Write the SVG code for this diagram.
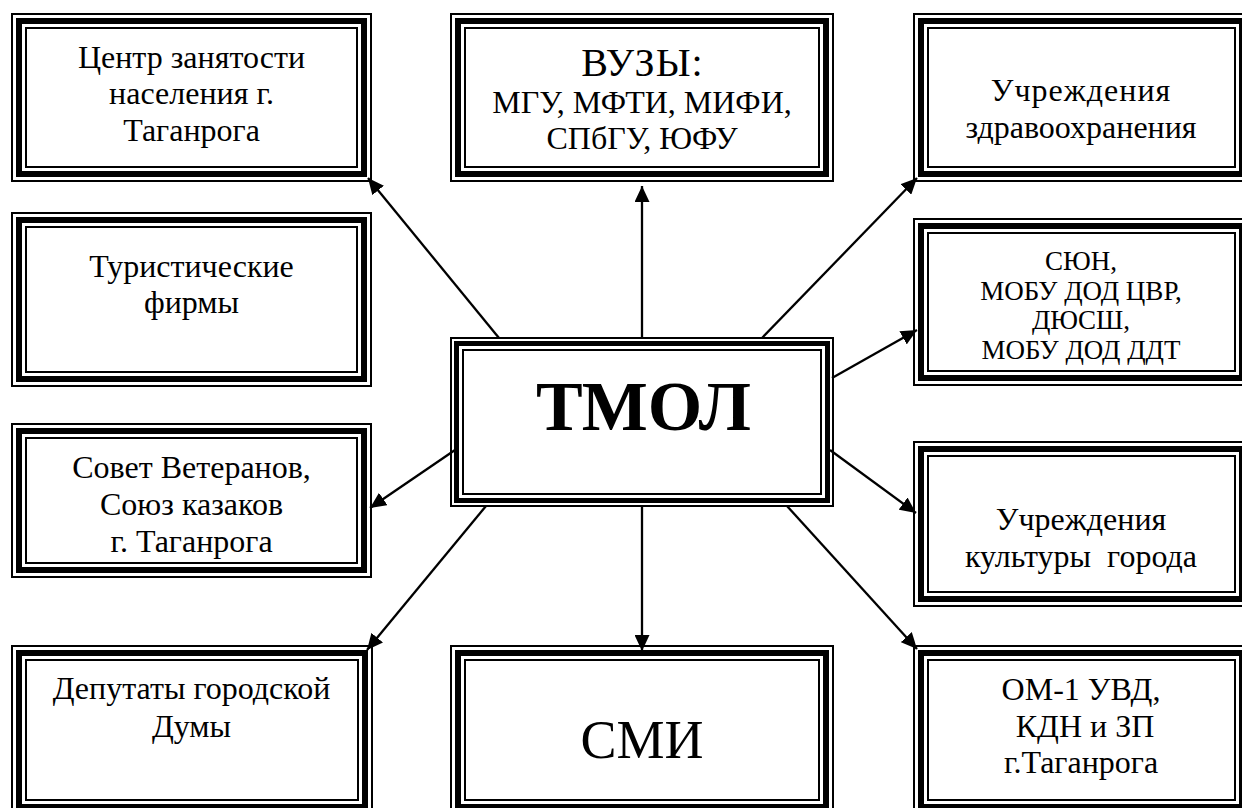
<svg xmlns="http://www.w3.org/2000/svg" width="1242" height="808" viewBox="0 0 1242 808">
<defs>
<style>
.o{fill:#fff;stroke:#000;stroke-width:2}
.m{fill:none;stroke:#000;stroke-width:6}
.i{fill:none;stroke:#000;stroke-width:2}
.t{font-family:'Liberation Serif','Times New Roman',serif;font-size:32px;fill:#000;text-anchor:middle}
.c{stroke:#000;stroke-width:2.3;fill:none;marker-end:url(#ah)}
</style>
<marker id="ah" viewBox="0 0 16 15" markerWidth="16" markerHeight="15" refX="16" refY="7.5" orient="auto" markerUnits="userSpaceOnUse">
<path d="M0,0 L16,7.5 L0,15 z" fill="#000"/>
</marker>
</defs>
<rect width="1242" height="808" fill="#fff"/>

<g id="n-center">
<rect class="o" x="12" y="14" width="359" height="167"/>
<rect class="m" x="19" y="21" width="345" height="153"/>
<rect class="i" x="26" y="28" width="331" height="139"/>
<text class="t" x="191.5" y="68">Центр занятости</text>
<text class="t" x="191.5" y="104">населения г.</text>
<text class="t" x="191.5" y="140.5">Таганрога</text>
</g>

<g id="n-vuz">
<rect class="o" x="451" y="14" width="382" height="167"/>
<rect class="m" x="458" y="21" width="368" height="153"/>
<rect class="i" x="465" y="28" width="354" height="139"/>
<text class="t" x="642.5" y="76" style="font-size:40px;letter-spacing:1px">ВУЗЫ:</text>
<text class="t" x="642" y="112.5">МГУ, МФТИ, МИФИ,</text>
<text class="t" x="642" y="149">СПбГУ, ЮФУ</text>
</g>

<g id="n-health">
<rect class="o" x="914" y="14" width="335" height="167"/>
<rect class="m" x="921" y="21" width="321" height="153"/>
<rect class="i" x="928" y="28" width="307" height="139"/>
<text class="t" x="1081" y="101" style="letter-spacing:1px">Учреждения</text>
<text class="t" x="1081" y="138">здравоохранения</text>
</g>

<g id="n-tour">
<rect class="o" x="12" y="213" width="359" height="173"/>
<rect class="m" x="19" y="220" width="345" height="159"/>
<rect class="i" x="26" y="227" width="331" height="145"/>
<text class="t" x="191.5" y="277">Туристические</text>
<text class="t" x="191.5" y="313">фирмы</text>
</g>

<g id="n-syun">
<rect class="o" x="914" y="219" width="335" height="166"/>
<rect class="m" x="921" y="226" width="321" height="152"/>
<rect class="i" x="928" y="233" width="307" height="138"/>
<text class="t" x="1081" y="270" style="font-size:27px">СЮН,</text>
<text class="t" x="1081" y="299.5" style="font-size:27px">МОБУ ДОД ЦВР,</text>
<text class="t" x="1081" y="329" style="font-size:27px">ДЮСШ,</text>
<text class="t" x="1081" y="358.5" style="font-size:27px">МОБУ ДОД ДДТ</text>
</g>

<g id="n-tmol">
<rect class="o" x="451" y="338" width="382" height="168"/>
<rect class="m" x="456.5" y="343.5" width="371" height="157" style="stroke-width:5"/>
<rect class="i" x="463" y="350" width="358" height="144"/>
<text class="t" x="643.5" y="430" style="font-size:70px;font-weight:bold">ТМОЛ</text>
</g>

<g id="n-veterans">
<rect class="o" x="12" y="424" width="359" height="153"/>
<rect class="m" x="19" y="431" width="345" height="139"/>
<rect class="i" x="26" y="438" width="331" height="125"/>
<text class="t" x="191.5" y="478">Совет Ветеранов,</text>
<text class="t" x="191.5" y="515">Союз казаков</text>
<text class="t" x="191.5" y="552">г. Таганрога</text>
</g>

<g id="n-culture">
<rect class="o" x="914" y="442" width="335" height="164"/>
<rect class="m" x="921" y="449" width="321" height="150"/>
<rect class="i" x="928" y="456" width="307" height="136"/>
<text class="t" x="1081" y="530">Учреждения</text>
<text class="t" x="1081" y="567" xml:space="preserve">культуры  города</text>
</g>

<g id="n-deputies">
<rect class="o" x="12" y="646" width="360" height="168"/>
<rect class="m" x="19" y="653" width="346" height="154"/>
<rect class="i" x="26" y="660" width="332" height="140"/>
<text class="t" x="191.5" y="699">Депутаты городской</text>
<text class="t" x="191.5" y="737">Думы</text>
</g>

<g id="n-smi">
<rect class="o" x="451" y="646" width="382" height="168"/>
<rect class="m" x="458" y="653" width="368" height="154"/>
<rect class="i" x="465" y="660" width="354" height="140"/>
<text class="t" x="642" y="758" style="font-size:54px">СМИ</text>
</g>

<g id="n-police">
<rect class="o" x="914" y="646" width="335" height="168"/>
<rect class="m" x="921" y="653" width="321" height="154"/>
<rect class="i" x="928" y="660" width="307" height="140"/>
<text class="t" x="1081" y="700">ОМ-1 УВД,</text>
<text class="t" x="1081" y="737" xml:space="preserve"> КДН и ЗП</text>
<text class="t" x="1081" y="773">г.Таганрога</text>
</g>

<g id="connectors">
<line class="c" x1="499" y1="338" x2="368" y2="178"/>
<line class="c" x1="642" y1="338" x2="642" y2="186"/>
<line class="c" x1="762" y1="338" x2="917" y2="178"/>
<line class="c" x1="832" y1="378" x2="917" y2="330"/>
<line class="c" x1="830" y1="450" x2="916" y2="513"/>
<line class="c" x1="787" y1="506" x2="917" y2="649"/>
<line class="c" x1="642" y1="506" x2="642" y2="651"/>
<line class="c" x1="486" y1="506" x2="367" y2="650"/>
<line class="c" x1="455" y1="450" x2="370" y2="508"/>
</g>
</svg>
